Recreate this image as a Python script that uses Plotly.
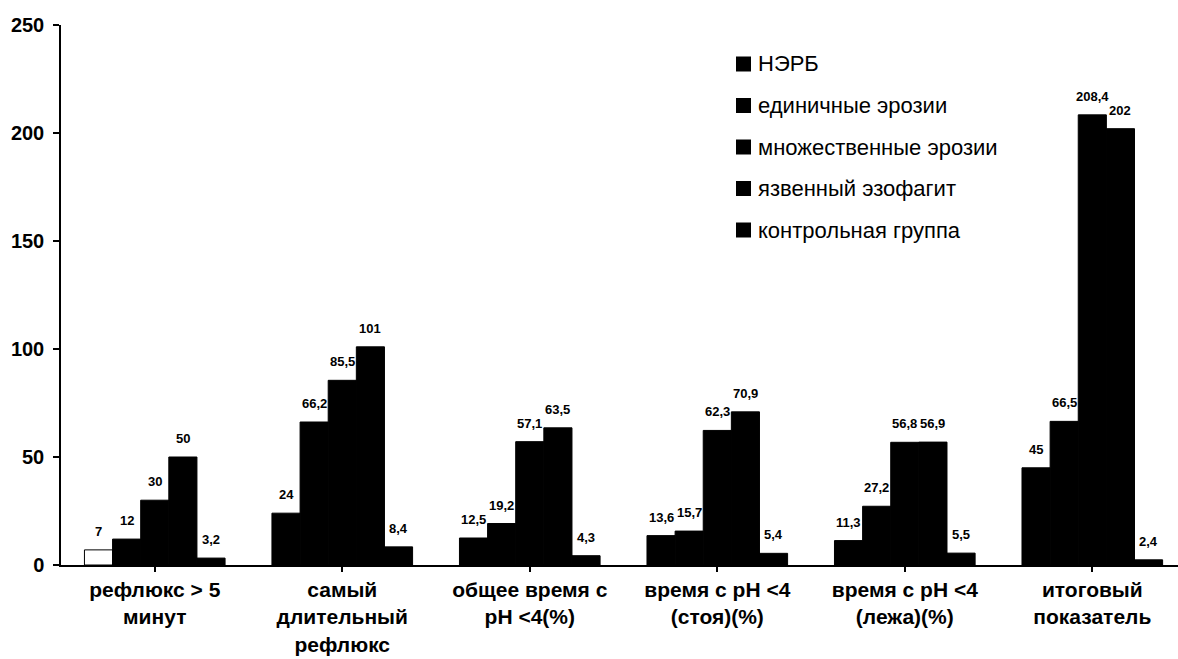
import plotly.graph_objects as go

# Categories (x-axis) and series values
categories = [
    "рефлюкс > 5<br>минут",
    "самый<br>длительный<br>рефлюкс",
    "общее время с<br>pH <4(%)",
    "время с pH <4<br>(стоя)(%)",
    "время с pH <4<br>(лежа)(%)",
    "итоговый<br>показатель",
]
series_names = [
    "НЭРБ",
    "единичные эрозии",
    "множественные эрозии",
    "язвенный эзофагит",
    "контрольная группа",
]
nerb = [7, 24, 12.5, 13.6, 11.3, 45]
single_erosions = [12, 66.2, 19.2, 15.7, 27.2, 66.5]
multiple_erosions = [30, 85.5, 57.1, 62.3, 56.8, 208.4]
ulcerative = [50, 101, 63.5, 70.9, 56.9, 202]
control = [3.2, 8.4, 4.3, 5.4, 5.5, 2.4]
y_ticks = [0, 50, 100, 150, 200, 250]

series_values = [nerb, single_erosions, multiple_erosions, ulcerative, control]

FONT = "Arial, 'Liberation Sans', sans-serif"
n_series = len(series_values)
bargap = 0.25
slot = (1 - bargap) / n_series


def fmt(v):
    return f"{v:g}".replace(".", ",")


fig = go.Figure()
for s, (name, vals) in enumerate(zip(series_names, series_values)):
    colors = ["black"] * len(vals)
    if s == 0:
        colors[0] = "white"
    fig.add_trace(go.Bar(
        name=name,
        x=list(range(len(categories))),
        y=vals,
        marker=dict(color=colors, line=dict(color="black", width=1)),
        showlegend=False,
    ))

# Value labels above each bar
annotations = []
for s, vals in enumerate(series_values):
    offset = (s - (n_series - 1) / 2) * slot
    for i, v in enumerate(vals):
        annotations.append(dict(
            x=i + offset, y=v, xref="x", yref="y",
            text=fmt(v), showarrow=False,
            yanchor="bottom", xanchor="center", yshift=9,
            font=dict(family=FONT, size=13, color="black", weight="bold"),
        ))

# Legend drawn as squares + text
plot_left, plot_right = 61, 1178
plot_top, plot_bottom = 25, 565
W = plot_right - plot_left
H = plot_bottom - plot_top


def px_x(px):
    return (px - plot_left) / W


def px_y(py):
    return (plot_bottom - py) / H


shapes = []
leg_y0 = 64
leg_step = 41.5
for k, name in enumerate(series_names):
    cy = leg_y0 + k * leg_step
    shapes.append(dict(
        type="rect", xref="paper", yref="paper",
        x0=px_x(736), x1=px_x(751), y0=px_y(cy + 7.5), y1=px_y(cy - 7.5),
        fillcolor="black", line=dict(color="black", width=0),
    ))
    annotations.append(dict(
        x=px_x(756), y=px_y(cy), xref="paper", yref="paper",
        text=name, showarrow=False, xanchor="left", yanchor="middle",
        font=dict(family=FONT, size=22, color="black"),
    ))

fig.update_layout(
    width=1178, height=659,
    margin=dict(l=plot_left, r=0, t=plot_top, b=659 - plot_bottom),
    paper_bgcolor="white", plot_bgcolor="white",
    barmode="group", bargap=bargap, bargroupgap=0,
    annotations=annotations, shapes=shapes,
    showlegend=False,
)
fig.update_xaxes(
    tickmode="array", tickvals=list(range(len(categories))), ticktext=categories,
    range=[-0.5, 5.457],
    showline=True, linecolor="black", linewidth=1.5,
    ticks="outside", ticklen=5, tickcolor="black", tickwidth=1.5,
    showgrid=False, zeroline=False,
    tickfont=dict(family=FONT, size=21, color="black", weight="bold"),
)
fig.update_yaxes(
    range=[0, 250], tickvals=y_ticks,
    showline=True, linecolor="black", linewidth=1.5,
    ticks="outside", ticklen=6, tickcolor="black", tickwidth=1.5,
    showgrid=False, zeroline=False,
    ticklabelstandoff=5,
    tickfont=dict(family=FONT, size=20, color="black", weight="bold"),
)

fig.write_html("out.html")
